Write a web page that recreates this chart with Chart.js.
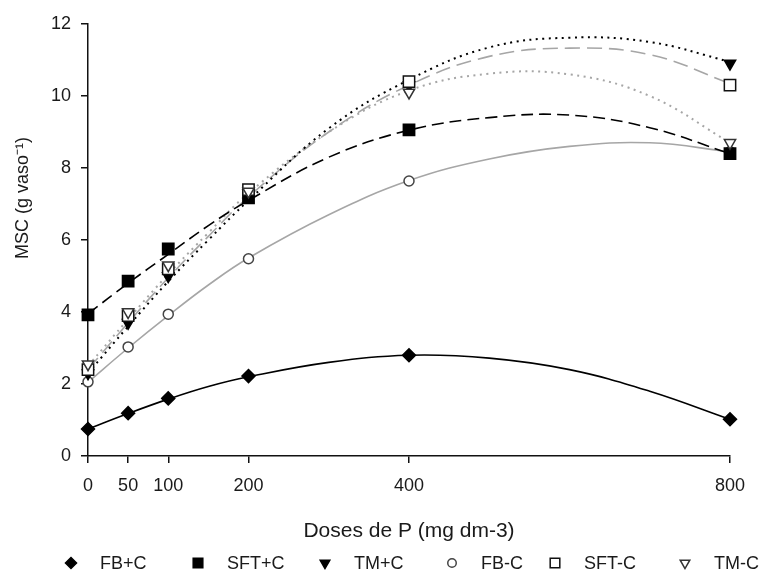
<!DOCTYPE html>
<html>
<head>
<meta charset="utf-8">
<script src="https://cdn.jsdelivr.net/npm/chart.js@4/dist/chart.umd.min.js"></script>
<style>
html,body{margin:0;padding:0;background:#fff;}
#wrap{width:761px;height:573px;position:relative;}
</style>
</head>
<body>
<div id="wrap"><canvas id="c" width="761" height="573"></canvas></div>
<script>
// ---------- data ----------
const doses = [0, 50, 100, 200, 400, 800];
const xTicks = [0, 50, 100, 200, 400, 800];
const seriesNames = ['FB+C', 'SFT+C', 'TM+C', 'FB-C', 'SFT-C', 'TM-C'];

// observed means (markers)
const fbPlusObs  = [0.75, 1.19, 1.60, 2.22, 2.80, 1.02];
const sftPlusObs = [3.92, 4.86, 5.75, 7.17, 9.06, 8.40];
const tmPlusObs  = [2.30, 3.70, 5.00, 7.30, 10.30, 10.90];
const fbMinusObs = [2.06, 3.03, 3.94, 5.48, 7.64, 8.45];
const sftMinusObs= [2.40, 3.90, 5.20, 7.40, 10.40, 10.30];
const tmMinusObs = [2.55, 4.00, 5.30, 7.35, 10.10, 8.70];

// fitted curves, values
const curveDoses = [0, 50, 100, 150, 200, 300, 400, 500, 600, 700, 800];
const fbPlusFit  = [0.75, 1.18, 1.58, 1.93, 2.20, 2.60, 2.80, 2.72, 2.40, 1.80, 1.02];
const sftPlusFit = [3.95, 4.80, 5.60, 6.40, 7.10, 8.30, 9.05, 9.40, 9.47, 9.12, 8.40];
const tmPlusFit  = [2.30, 3.60, 4.85, 6.00, 7.10, 9.10, 10.45, 11.35, 11.62, 11.50, 10.95];
const fbMinusFit = [2.05, 3.00, 3.90, 4.75, 5.50, 6.70, 7.65, 8.25, 8.60, 8.70, 8.45];
const sftMinusFit= [2.40, 3.70, 4.95, 6.10, 7.20, 9.00, 10.30, 11.10, 11.33, 11.15, 10.35];
const tmMinusFit = [2.50, 3.80, 5.05, 6.20, 7.30, 9.00, 10.15, 10.62, 10.60, 10.00, 8.70];

const yTicksMin = 0, yTicksMax = 12, yStep = 2;

// ---------- chart ----------
Chart.defaults.font.family = '"Liberation Sans", Arial, sans-serif';
Chart.defaults.color = '#1a1a1a';

const toXY = (xs, ys) => xs.map((x, i) => ({x: x, y: ys[i]}));

const obsSets  = [fbPlusObs, sftPlusObs, tmPlusObs, fbMinusObs, sftMinusObs, tmMinusObs];
const fitSets  = [fbPlusFit, sftPlusFit, tmPlusFit, fbMinusFit, sftMinusFit, tmMinusFit];

const styles = [
  {line:'#000000', dash:[],      lw:1.6, ps:'rectRot',  r:6.5, rot:0,   fill:'#000000', edge:'#000000', ord:9},
  {line:'#000000', dash:[12,6],  lw:1.6, ps:'rect',     r:8,   rot:0,   fill:'#000000', edge:'#000000', ord:8},
  {line:'#000000', dash:[2,4.5], lw:2.0, ps:'triangle', r:6.5, rot:180, fill:'#000000', edge:'#000000', ord:7},
  {line:'#a6a6a6', dash:[],      lw:1.6, ps:'circle',   r:5,   rot:0,   fill:'#ffffff', edge:'#444444', ord:12},
  {line:'#a6a6a6', dash:[15,7],  lw:1.6, ps:'rect',     r:8,   rot:0,   fill:'#ffffff', edge:'#111111', ord:6},
  {line:'#a6a6a6', dash:[2,4.5], lw:2.0, ps:'triangle', r:6.5, rot:180, fill:'#ffffff', edge:'#333333', ord:5}
];

const datasets = [];
seriesNames.forEach((name, i) => {
  const s = styles[i];
  datasets.push({
    label: name + ' (ajuste)',
    data: toXY(curveDoses, fitSets[i]),
    showLine: true,
    borderColor: s.line,
    borderWidth: s.lw,
    borderDash: s.dash,
    pointRadius: 0,
    pointHoverRadius: 0,
    tension: 0.4,
    fill: false,
    clip: false,
    order: 20 + i
  });
});
seriesNames.forEach((name, i) => {
  const s = styles[i];
  datasets.push({
    label: name,
    data: toXY(doses, obsSets[i]),
    showLine: false,
    pointStyle: s.ps,
    pointRadius: s.r,
    pointRotation: s.rot,
    pointBackgroundColor: s.fill,
    pointBorderColor: s.edge,
    pointBorderWidth: 1.5,
    clip: false,
    order: s.ord,
    isMarker: true
  });
});

const manualLegend = {
  id: 'manualLegend',
  afterDraw(chart, args, opts) {
    const ctx = chart.ctx;
    const markers = chart.data.datasets.filter(d => d.isMarker);
    ctx.save();
    ctx.font = '18px "Liberation Sans", Arial, sans-serif';
    ctx.textBaseline = 'middle';
    ctx.textAlign = 'left';
    markers.forEach((ds, i) => {
      const mx = opts.markerX[i];
      ctx.fillStyle = ds.pointBackgroundColor;
      ctx.strokeStyle = ds.pointBorderColor;
      ctx.lineWidth = ds.pointBorderWidth;
      ctx.setLineDash([]);
      Chart.helpers.drawPoint(ctx, {
        pointStyle: ds.pointStyle,
        radius: ds.pointRadius * 0.85,
        rotation: ds.pointRotation,
        borderWidth: ds.pointBorderWidth
      }, mx, opts.y);
      ctx.fillStyle = '#1a1a1a';
      ctx.fillText(ds.label, mx + opts.gap, opts.y + 1);
    });
    ctx.restore();
  }
};

const yTitleShift = {
  id: 'yTitleShift',
  afterLayout(chart, args, opts) {
    const s = chart.scales.y;
    if (s && !s._shiftWrapped) {
      const orig = s.drawTitle;
      s.drawTitle = function () {
        const b = this.bottom;
        this.bottom -= opts.shift;
        orig.call(this);
        this.bottom = b;
      };
      s._shiftWrapped = true;
    }
  }
};

new Chart(document.getElementById('c'), {
  type: 'scatter',
  data: { datasets: datasets },
  plugins: [manualLegend, yTitleShift],
  options: {
    responsive: false,
    animation: false,
    events: [],
    layout: { padding: { left: 8, right: 31, top: 24, bottom: 28 } },
    plugins: {
      legend: { display: false },
      tooltip: { enabled: false },
      manualLegend: { markerX: [71, 198, 325, 452, 555, 685], gap: 29, y: 563 },
      yTitleShift: { shift: 84 }
    },
    scales: {
      x: {
        type: 'linear',
        min: 0, max: 800,
        afterBuildTicks: (scale) => { scale.ticks = xTicks.map(v => ({value: v})); },
        afterFit: (scale) => { scale.height = 89; },
        grid: { display: true, drawOnChartArea: false, drawTicks: true, tickLength: 7, color: '#111', lineWidth: 1.5 },
        border: { display: true, color: '#111', width: 1.5 },
        ticks: { autoSkip: false, maxRotation: 0, padding: 12, font: { size: 18 }, color: '#1a1a1a' },
        title: { display: true, text: 'Doses de P (mg dm-3)', font: { size: 21 }, color: '#1a1a1a', padding: { top: 0, bottom: 1 } }
      },
      y: {
        type: 'linear',
        min: yTicksMin, max: yTicksMax,
        afterFit: (scale) => { scale.width = 80; },
        grid: { display: true, drawOnChartArea: false, drawTicks: true, tickLength: 7, color: '#111', lineWidth: 1.5 },
        border: { display: true, color: '#111', width: 1.5 },
        ticks: { stepSize: yStep, padding: 10, font: { size: 18 }, color: '#1a1a1a' },
        title: { display: true, text: 'MSC (g vaso\u207B\u00B9)', font: { size: 18 }, color: '#1a1a1a', padding: { top: 4, bottom: 0 } }
      }
    }
  }
});
</script>
</body>
</html>
